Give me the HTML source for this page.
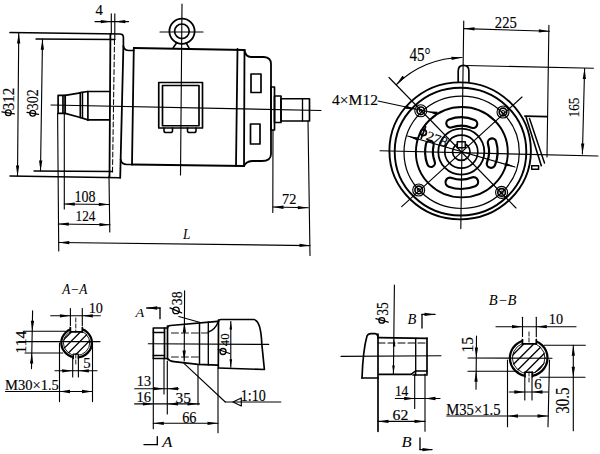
<!DOCTYPE html>
<html><head><meta charset="utf-8"><style>
html,body{margin:0;padding:0;background:#fff;width:600px;height:454px;overflow:hidden}
svg{display:block}
text{font-family:"Liberation Serif",serif;fill:#000;stroke:#000;stroke-width:0.15px}
</style></head><body>
<svg width="600" height="454" viewBox="0 0 600 454">
<rect width="600" height="454" fill="#fff"/>
<g fill="none" stroke="#000" stroke-linecap="round" stroke-linejoin="round">
<text x="95.59" y="15" font-size="13.6" textLength="7.32" lengthAdjust="spacingAndGlyphs">4</text>
<line x1="95" y1="21.6" x2="128.6" y2="21.6" stroke-width="1.12" />
<path d="M111.3,21.6 L100.8,23.25 L100.8,19.95 Z" fill="#000" stroke="none"/>
<path d="M114.8,21.6 L125.3,19.95 L125.3,23.25 Z" fill="#000" stroke="none"/>
<line x1="111.3" y1="13.9" x2="111.3" y2="34" stroke-width="1.12" />
<line x1="114.8" y1="13.9" x2="114.8" y2="39.5" stroke-width="1.12" />
<line x1="114.5" y1="39.5" x2="112.5" y2="173" stroke-width="1.01" stroke-dasharray="5,2.5"/>
<path d="M10,32.5 L120,34 Q123.4,34 123.4,37.5 L123.4,46.5 Q124.5,50.5 129,50.5 L133.8,50.5" stroke-width="1.68" />
<line x1="123.4" y1="46" x2="120.2" y2="177.8" stroke-width="1.79" />
<line x1="110.4" y1="34" x2="109.5" y2="176.5" stroke-width="1.79" />
<line x1="10" y1="176" x2="120.2" y2="177.8" stroke-width="1.57" />
<path d="M120.6,159.5 Q121.5,164.5 127,164.5 L132,164.5" stroke-width="1.68" />
<line x1="36" y1="39" x2="114.8" y2="39.5" stroke-width="1.34" />
<line x1="34" y1="171" x2="112.5" y2="171.5" stroke-width="1.34" />
<line x1="18.75" y1="33" x2="17.5" y2="176" stroke-width="1.12" />
<path d="M18.75,33 L20.31,43.51 L17.01,43.49 Z" fill="#000" stroke="none"/>
<path d="M17.5,176 L15.94,165.49 L19.24,165.51 Z" fill="#000" stroke="none"/>
<text transform="translate(8.5,98.9) rotate(-90)" x="-11.29" y="5.4" font-size="16.31" textLength="22.58" lengthAdjust="spacingAndGlyphs">312</text>
<ellipse cx="8.3" cy="112.8" rx="2.9" ry="2.9" stroke-width="1.3" fill="none" />
<line x1="1.9" y1="111.8" x2="14.3" y2="113.8" stroke-width="1.3" />
<line x1="42.5" y1="39.3" x2="40.5" y2="171" stroke-width="1.12" />
<path d="M42.5,39.3 L43.99,49.82 L40.69,49.77 Z" fill="#000" stroke="none"/>
<path d="M40.5,171 L39.01,160.48 L42.31,160.53 Z" fill="#000" stroke="none"/>
<text transform="translate(32.6,99.65) rotate(-90)" x="-10.52" y="5.2" font-size="15.71" textLength="21.04" lengthAdjust="spacingAndGlyphs">302</text>
<ellipse cx="32.7" cy="113.3" rx="2.9" ry="2.9" stroke-width="1.3" fill="none" />
<line x1="27" y1="112.3" x2="38.5" y2="114.3" stroke-width="1.3" />
<rect x="58.1" y="95.3" width="7.1" height="18.1" stroke-width="1.68" fill="none"/>
<line x1="62.8" y1="95.3" x2="62.8" y2="113.4" stroke-width="1.34" />
<line x1="63.9" y1="95.3" x2="63.9" y2="113.4" stroke-width="1.12" />
<line x1="65.2" y1="95.3" x2="80.3" y2="92.8" stroke-width="1.68" />
<line x1="65.2" y1="113.4" x2="80.3" y2="117.5" stroke-width="1.68" />
<line x1="80.3" y1="92.8" x2="80.3" y2="117.5" stroke-width="1.68" />
<line x1="82.5" y1="92.6" x2="82.5" y2="117.5" stroke-width="1.46" />
<line x1="87.9" y1="91.5" x2="87.9" y2="119.9" stroke-width="1.68" />
<line x1="80.3" y1="92.6" x2="87.9" y2="91.5" stroke-width="1.68" />
<line x1="80.3" y1="117.5" x2="87.9" y2="119.9" stroke-width="1.68" />
<line x1="87.9" y1="91.5" x2="109.4" y2="91.5" stroke-width="1.68" />
<line x1="87.9" y1="119.9" x2="109.4" y2="119.9" stroke-width="1.68" />
<line x1="51" y1="105" x2="321" y2="110.5" stroke-width="1.12" />
<line x1="133.8" y1="48" x2="244.5" y2="50" stroke-width="1.79" />
<line x1="133.8" y1="48" x2="132" y2="164.5" stroke-width="1.79" />
<line x1="132" y1="164.5" x2="244" y2="166" stroke-width="1.79" />
<line x1="237.5" y1="49" x2="236" y2="166" stroke-width="1.79" />
<line x1="244.5" y1="50" x2="244" y2="166" stroke-width="1.79" />
<path d="M244.5,50 Q245.5,57 251,57 L264,57 Q271,57.5 271,64 L271,154 Q271,161 262,161 L252,161 Q246,161.5 244,166" stroke-width="1.79" />
<rect x="251" y="74" width="10" height="18.5" stroke-width="1.68" fill="none"/>
<rect x="250.5" y="124" width="9.5" height="20" stroke-width="1.68" fill="none"/>
<rect x="271" y="87" width="3.5" height="43" stroke-width="1.68" fill="none"/>
<rect x="274.5" y="96" width="6.5" height="26.5" stroke-width="1.68" fill="none"/>
<rect x="281" y="98.75" width="28.5" height="22.25" stroke-width="1.68" fill="none"/>
<line x1="302.5" y1="98.75" x2="302.5" y2="121" stroke-width="1.34" />
<rect x="158.75" y="82.5" width="43.75" height="45.5" stroke-width="1.68" fill="none"/>
<rect x="162.5" y="85.5" width="36.5" height="40.25" stroke-width="1.68" fill="none"/>
<path d="M164,128 L164,131 Q164,132.5 166,132.5 L170.5,132.5 Q172.5,132.5 172.5,131 L172.5,128" stroke-width="1.57" />
<path d="M187.5,128 L187.5,131 Q187.5,132.5 189.5,132.5 L194,132.5 Q196,132.5 196,131 L196,128" stroke-width="1.57" />
<circle cx="182" cy="31.2" r="12.6" stroke-width="1.79" fill="none"/>
<circle cx="181.9" cy="31.3" r="7.3" stroke-width="1.68" fill="none"/>
<path d="M173.2,47.8 L176.5,43 M189,47.8 L186.2,43" stroke-width="1.57" />
<line x1="160" y1="32" x2="203" y2="32" stroke-width="1.12" />
<line x1="182" y1="4" x2="180.5" y2="175" stroke-width="1.12" />
<line x1="57.6" y1="113.4" x2="58.75" y2="251" stroke-width="1.12" />
<line x1="64.3" y1="113.4" x2="64.3" y2="209" stroke-width="1.12" />
<line x1="109" y1="176" x2="109.8" y2="232" stroke-width="1.12" />
<line x1="64.3" y1="204" x2="109.3" y2="204.5" stroke-width="1.12" />
<path d="M64.3,204 L74.82,202.47 L74.78,205.77 Z" fill="#000" stroke="none"/>
<path d="M109.3,204.5 L98.78,206.03 L98.82,202.73 Z" fill="#000" stroke="none"/>
<text x="74.5" y="202" font-size="16.62" textLength="21" lengthAdjust="spacingAndGlyphs">108</text>
<line x1="58.3" y1="224" x2="110" y2="224.8" stroke-width="1.12" />
<path d="M58.3,224 L68.82,222.51 L68.77,225.81 Z" fill="#000" stroke="none"/>
<path d="M110,224.8 L99.48,226.29 L99.53,222.99 Z" fill="#000" stroke="none"/>
<text x="75.55" y="221" font-size="15.11" textLength="19.91" lengthAdjust="spacingAndGlyphs">124</text>
<line x1="58.75" y1="242.5" x2="310" y2="245.6" stroke-width="1.12" />
<path d="M58.75,242.5 L69.27,240.98 L69.23,244.28 Z" fill="#000" stroke="none"/>
<path d="M310,245.6 L299.48,247.12 L299.52,243.82 Z" fill="#000" stroke="none"/>
<text x="182.99" y="239" font-size="13.6" textLength="7.42" lengthAdjust="spacingAndGlyphs" font-style="italic" style="stroke-width:0">L</text>
<line x1="308" y1="121" x2="310" y2="255.5" stroke-width="1.12" />
<line x1="273" y1="130" x2="272.8" y2="212.5" stroke-width="1.12" />
<line x1="273" y1="207" x2="308.3" y2="207.8" stroke-width="1.12" />
<path d="M273,207 L283.53,205.59 L283.46,208.89 Z" fill="#000" stroke="none"/>
<path d="M308.3,207.8 L297.77,209.21 L297.84,205.91 Z" fill="#000" stroke="none"/>
<text x="282.09" y="204" font-size="13.6" textLength="14.32" lengthAdjust="spacingAndGlyphs">72</text>
<ellipse cx="460.15" cy="150.85" rx="70.75" ry="68.5" stroke-width="1.9" fill="none" />
<ellipse cx="460.5" cy="151.65" rx="65.8" ry="63.85" stroke-width="1.9" fill="none" />
<ellipse cx="461.65" cy="152.35" rx="57.65" ry="56.15" stroke-width="1.23" fill="none" />
<ellipse cx="461.85" cy="152.2" rx="45.95" ry="45.2" stroke-width="1.9" fill="none" />
<circle cx="461.3" cy="151.7" r="23" stroke-width="1.79" fill="none"/>
<circle cx="461.3" cy="151.7" r="16.5" stroke-width="1.68" fill="none"/>
<circle cx="461.3" cy="151.7" r="8.7" stroke-width="1.68" fill="none"/>
<rect x="457.3" y="141.7" width="8" height="6" stroke-width="1.57" fill="#fff"/>
<path d="M473.12,123.85 A30.25,30.25 0 0 0 450.46,123.46" stroke-width="10.5" stroke-linecap="round"/>
<path d="M473.12,123.85 A30.25,30.25 0 0 0 450.46,123.46" stroke="#fff" stroke-width="6.1" stroke-linecap="round"/>
<path d="M429.77,144.71 A32.3,32.3 0 0 0 431.05,163.01" stroke-width="10" stroke-linecap="round"/>
<path d="M429.77,144.71 A32.3,32.3 0 0 0 431.05,163.01" stroke="#fff" stroke-width="5.6" stroke-linecap="round"/>
<path d="M491.08,163.55 A32.05,32.05 0 0 0 492.06,142.7" stroke-width="10.7" stroke-linecap="round"/>
<path d="M491.08,163.55 A32.05,32.05 0 0 0 492.06,142.7" stroke="#fff" stroke-width="6.3" stroke-linecap="round"/>
<path d="M450.17,182.29 A32.55,32.55 0 0 0 473.49,181.88" stroke-width="11.5" stroke-linecap="round"/>
<path d="M450.17,182.29 A32.55,32.55 0 0 0 473.49,181.88" stroke="#fff" stroke-width="7.1" stroke-linecap="round"/>
<line x1="463.75" y1="21" x2="460.8" y2="228.6" stroke-width="1.12" />
<line x1="380" y1="150.8" x2="598" y2="156" stroke-width="1.12" />
<line x1="389" y1="77.5" x2="516" y2="208" stroke-width="1.12" />
<line x1="522" y1="97" x2="401.7" y2="206.7" stroke-width="1.12" />
<circle cx="420.8" cy="110.8" r="6" stroke-width="1.12" fill="none"/>
<circle cx="420.8" cy="110.8" r="3.8" stroke-width="1.68" fill="none"/>
<circle cx="420.8" cy="110.8" r="1.5" stroke-width="1.01" fill="none"/>
<circle cx="503" cy="112" r="6" stroke-width="1.12" fill="none"/>
<circle cx="503" cy="112" r="3.8" stroke-width="1.68" fill="none"/>
<circle cx="503" cy="112" r="1.5" stroke-width="1.01" fill="none"/>
<circle cx="418.7" cy="190" r="6" stroke-width="1.12" fill="none"/>
<circle cx="418.7" cy="190" r="3.8" stroke-width="1.68" fill="none"/>
<circle cx="418.7" cy="190" r="1.5" stroke-width="1.01" fill="none"/>
<circle cx="501.6" cy="192.4" r="6" stroke-width="1.12" fill="none"/>
<circle cx="501.6" cy="192.4" r="3.8" stroke-width="1.68" fill="none"/>
<circle cx="501.6" cy="192.4" r="1.5" stroke-width="1.01" fill="none"/>
<path d="M458.2,81.6 L458.2,71 Q458.2,65.4 463.5,65.4 Q468.9,65.4 468.9,71 L468.9,81.6" stroke-width="1.68" />
<line x1="466" y1="65.5" x2="593.4" y2="68.3" stroke-width="1.12" />
<path d="M462,57.5 A94,94 0 0 0 396.5,84.5" stroke-width="1.12" />
<path d="M462,57.5 L451.67,59.98 L451.4,56.69 Z" fill="#000" stroke="none"/>
<path d="M396.5,84.5 L402.38,75.64 L404.81,77.87 Z" fill="#000" stroke="none"/>
<text x="409.46" y="61" font-size="18.13" textLength="21.09" lengthAdjust="spacingAndGlyphs">45°</text>
<text x="332.05" y="105" font-size="15.11" textLength="45.91" lengthAdjust="spacingAndGlyphs">4×M12</text>
<line x1="378" y1="101" x2="434" y2="113" stroke-width="1.12" />
<path d="M416,109.5 L405.39,108.82 L406.11,105.6 Z" fill="#000" stroke="none"/>
<path d="M427,111.3 L437.61,111.85 L436.93,115.08 Z" fill="#000" stroke="none"/>
<line x1="407.5" y1="136" x2="515" y2="167" stroke-width="1.12" />
<path d="M407.5,136 L418.04,137.39 L417.11,140.55 Z" fill="#000" stroke="none"/>
<path d="M515,167 L504.45,165.68 L505.37,162.51 Z" fill="#000" stroke="none"/>
<text transform="translate(437,139) rotate(21)" x="-10.91" y="4.5" font-size="13.6" textLength="21.82" lengthAdjust="spacingAndGlyphs">278</text>
<circle cx="423.4" cy="132.6" r="3" stroke-width="1.68" fill="none"/>
<line x1="421.18" y1="138.39" x2="425.62" y2="126.81" stroke-width="1.68" />
<line x1="464" y1="28.6" x2="549.3" y2="31.3" stroke-width="1.12" />
<path d="M464,28.6 L474.55,27.28 L474.44,30.58 Z" fill="#000" stroke="none"/>
<path d="M549.3,31.3 L538.75,32.62 L538.86,29.32 Z" fill="#000" stroke="none"/>
<text x="494.8" y="27.5" font-size="16.62" textLength="22" lengthAdjust="spacingAndGlyphs">225</text>
<line x1="548.9" y1="25.3" x2="547" y2="157" stroke-width="1.12" />
<line x1="584.6" y1="68.5" x2="582.4" y2="154" stroke-width="1.12" />
<path d="M584.6,68.5 L585.98,79.04 L582.68,78.95 Z" fill="#000" stroke="none"/>
<path d="M582.4,154 L581.02,143.46 L584.32,143.55 Z" fill="#000" stroke="none"/>
<text transform="translate(574,107.5) rotate(-90)" x="-9.95" y="5" font-size="15.11" textLength="19.91" lengthAdjust="spacingAndGlyphs">165</text>
<line x1="524.8" y1="116.1" x2="546.8" y2="116.6" stroke-width="1.57" />
<line x1="526.2" y1="117.5" x2="541.3" y2="165.7" stroke-width="1.57" />
<line x1="529.5" y1="118.5" x2="544.5" y2="163" stroke-width="1.46" />
<rect x="531.7" y="165.7" width="6.9" height="3.6" stroke-width="1.46" fill="none"/>
<text x="62.37" y="293.8" font-size="14.35" textLength="25.06" lengthAdjust="spacingAndGlyphs" font-style="italic" style="stroke-width:0">A−A</text>
<text x="88.75" y="313" font-size="15.11" textLength="14.21" lengthAdjust="spacingAndGlyphs">10</text>
<line x1="50.7" y1="315.8" x2="100.3" y2="315.8" stroke-width="1.12" />
<path d="M70.4,315.8 L59.9,317.45 L59.9,314.15 Z" fill="#000" stroke="none"/>
<path d="M82.3,315.8 L92.8,314.15 L92.8,317.45 Z" fill="#000" stroke="none"/>
<line x1="70.4" y1="308.6" x2="70.4" y2="331.7" stroke-width="1.12" />
<line x1="82.3" y1="308.6" x2="82.3" y2="331.7" stroke-width="1.12" />
<ellipse cx="76.6" cy="342.8" rx="15.3" ry="14.6" stroke-width="2.24" fill="none" />
<ellipse cx="76.6" cy="342.8" rx="13.2" ry="12.6" stroke-width="0.9" fill="none" />
<clipPath id="ca"><ellipse cx="76.6" cy="342.8" rx="13.5" ry="13"/></clipPath>
<g clip-path="url(#ca)">
<line x1="31.6" y1="362.8" x2="71.6" y2="322.8" stroke-width="1.34" />
<line x1="40.6" y1="362.8" x2="80.6" y2="322.8" stroke-width="1.34" />
<line x1="49.6" y1="362.8" x2="89.6" y2="322.8" stroke-width="1.34" />
<line x1="58.6" y1="362.8" x2="98.6" y2="322.8" stroke-width="1.34" />
<line x1="67.6" y1="362.8" x2="107.6" y2="322.8" stroke-width="1.34" />
<line x1="76.6" y1="362.8" x2="116.6" y2="322.8" stroke-width="1.34" />
<line x1="85.6" y1="362.8" x2="125.6" y2="322.8" stroke-width="1.34" />
</g>
<rect x="70" y="326" width="12.8" height="5.9" fill="#fff" stroke="none"/>
<line x1="70.4" y1="327.5" x2="70.4" y2="331.9" stroke-width="1.68" />
<line x1="82.3" y1="327.5" x2="82.3" y2="331.9" stroke-width="1.68" />
<line x1="70.4" y1="331.9" x2="82.3" y2="331.9" stroke-width="1.68" />
<rect x="72.6" y="354.5" width="6.4" height="5" fill="#fff" stroke="none"/>
<line x1="73.3" y1="355" x2="73.3" y2="358.5" stroke-width="1.34" />
<line x1="78.3" y1="355" x2="78.3" y2="358.5" stroke-width="1.34" />
<line x1="73.3" y1="354.2" x2="78.3" y2="354.2" stroke-width="1.34" />
<line x1="75.8" y1="318" x2="75.8" y2="332" stroke-width="0.9" stroke-dasharray="4,2"/>
<line x1="75.8" y1="354" x2="75.8" y2="366" stroke-width="0.9" stroke-dasharray="4,2"/>
<line x1="24" y1="331.3" x2="66" y2="331.3" stroke-width="1.12" />
<line x1="18.7" y1="341.6" x2="100" y2="341.6" stroke-width="1.12" />
<line x1="25" y1="353" x2="62.8" y2="353" stroke-width="1.12" />
<line x1="32.6" y1="310.8" x2="31.5" y2="368.6" stroke-width="1.12" />
<path d="M32.3,331.3 L30.84,320.77 L34.14,320.83 Z" fill="#000" stroke="none"/>
<path d="M31.8,353 L33.24,363.53 L29.94,363.46 Z" fill="#000" stroke="none"/>
<text transform="translate(21.5,342) rotate(-90)" x="-11.41" y="4.5" font-size="13.6" textLength="22.82" lengthAdjust="spacingAndGlyphs">114</text>
<line x1="59.5" y1="343" x2="59.5" y2="401.6" stroke-width="1.12" />
<line x1="92.5" y1="343" x2="92.5" y2="401.6" stroke-width="1.12" />
<line x1="72.7" y1="356" x2="72.7" y2="377" stroke-width="1.12" />
<line x1="78.4" y1="356" x2="78.4" y2="377" stroke-width="1.12" />
<text x="83.29" y="368" font-size="13.6" textLength="7.42" lengthAdjust="spacingAndGlyphs">5</text>
<line x1="55" y1="370.8" x2="97" y2="370.8" stroke-width="1.12" />
<path d="M72.7,370.8 L62.2,372.45 L62.2,369.15 Z" fill="#000" stroke="none"/>
<path d="M78.4,370.8 L88.9,369.15 L88.9,372.45 Z" fill="#000" stroke="none"/>
<text x="5.05" y="389.5" font-size="14.95" textLength="53.8" lengthAdjust="spacingAndGlyphs">M30×1.5</text>
<line x1="5.5" y1="391.5" x2="92.5" y2="391.5" stroke-width="1.12" />
<path d="M59.5,391.5 L70,389.85 L70,393.15 Z" fill="#000" stroke="none"/>
<path d="M92.5,391.5 L82,393.15 L82,389.85 Z" fill="#000" stroke="none"/>
<text x="135.64" y="317" font-size="12.08" textLength="8.73" lengthAdjust="spacingAndGlyphs" font-style="italic" style="stroke-width:0">A</text>
<line x1="146.7" y1="308" x2="160" y2="308" stroke-width="1.34" />
<line x1="160" y1="308" x2="160" y2="318.7" stroke-width="1.34" />
<path d="M146.7,308 L157.2,306.35 L157.2,309.65 Z" fill="#000" stroke="none"/>
<text transform="translate(177,298.3) rotate(-90)" x="-6.85" y="5" font-size="15.11" textLength="13.71" lengthAdjust="spacingAndGlyphs">38</text>
<ellipse cx="176" cy="310.4" rx="3.2" ry="3.3" stroke-width="1.3" fill="none" />
<line x1="170" y1="307.9" x2="181.6" y2="312.9" stroke-width="1.3" />
<line x1="184.6" y1="290.7" x2="184.2" y2="361" stroke-width="1.12" />
<rect x="153.3" y="328" width="11.2" height="30.5" stroke-width="1.68" fill="none"/>
<line x1="153.3" y1="332.5" x2="164.5" y2="332.5" stroke-width="1.34" />
<line x1="153.3" y1="355.5" x2="164.5" y2="355.5" stroke-width="1.34" />
<path d="M164.5,328 L167.5,328 Q167.5,325.8 170.5,325.5 L217.6,321.3" stroke-width="1.68" />
<path d="M164.5,358.5 L167.5,358.5 Q170,361.5 174,361.7 L198,364.3 L218,365.2" stroke-width="1.68" />
<line x1="167.5" y1="326" x2="167.5" y2="359" stroke-width="1.68" />
<path d="M218.5,321.5 Q218.5,319.5 221,319.5 L253.7,319.5 C258.5,320 261.3,330 261.8,344 L264.4,369.5 L218.5,368" stroke-width="1.68" />
<line x1="218.5" y1="320" x2="218.3" y2="367.7" stroke-width="1.68" />
<line x1="199.5" y1="322.8" x2="199.5" y2="364.5" stroke-width="1.46" />
<line x1="208.3" y1="322" x2="208.3" y2="365.2" stroke-width="1.34" />
<path d="M208.3,332 Q215,330 218.4,321.5" stroke-width="1.46" />
<line x1="230.8" y1="321.5" x2="230.8" y2="367.3" stroke-width="1.12" />
<path d="M230.8,321.5 L232.1,329.5 L229.5,329.5 Z" fill="#000" stroke="none"/>
<path d="M230.8,367.3 L229.5,359.3 L232.1,359.3 Z" fill="#000" stroke="none"/>
<text transform="translate(224.45,339.85) rotate(-90)" x="-6.33" y="4.15" font-size="12.54" textLength="12.65" lengthAdjust="spacingAndGlyphs">40</text>
<ellipse cx="223" cy="351.5" rx="3" ry="3" stroke-width="1.3" fill="none" />
<line x1="218.2" y1="349.5" x2="229.7" y2="353.5" stroke-width="1.3" />
<line x1="148.3" y1="343.8" x2="268.7" y2="344.4" stroke-width="1.12" />
<line x1="171.4" y1="333" x2="208" y2="333" stroke-width="0.9" stroke-dasharray="7,3"/>
<line x1="171.4" y1="357" x2="199.5" y2="357" stroke-width="0.9" stroke-dasharray="7,3"/>
<line x1="178.8" y1="316.5" x2="199.5" y2="322.3" stroke-width="1.12" />
<path d="M184.4,322 L186.05,332.5 L182.75,332.5 Z" fill="#000" stroke="none"/>
<path d="M184.2,361 L182.55,350.5 L185.85,350.5 Z" fill="#000" stroke="none"/>
<line x1="184" y1="363.3" x2="225.3" y2="402" stroke-width="1.12" />
<line x1="225.3" y1="402" x2="280.8" y2="402" stroke-width="1.12" />
<path d="M233,402 L241.3,398 L241.3,406 Z" stroke-width="1.2"/>
<text x="240.82" y="400.7" font-size="16.16" textLength="24.97" lengthAdjust="spacingAndGlyphs">1:10</text>
<line x1="153.3" y1="358" x2="153.3" y2="428.7" stroke-width="1.12" />
<line x1="164" y1="358" x2="164" y2="394" stroke-width="1.12" />
<line x1="167.3" y1="361" x2="167.3" y2="414" stroke-width="1.12" />
<line x1="198" y1="365" x2="198" y2="404.7" stroke-width="1.12" />
<line x1="218" y1="368" x2="218" y2="432.7" stroke-width="1.12" />
<text x="136.88" y="386" font-size="14.05" textLength="14.24" lengthAdjust="spacingAndGlyphs">13</text>
<line x1="134.7" y1="388.7" x2="178.7" y2="388.7" stroke-width="1.12" />
<path d="M164,388.7 L153.5,390.35 L153.5,387.05 Z" fill="#000" stroke="none"/>
<path d="M167.5,388.7 L178,387.05 L178,390.35 Z" fill="#000" stroke="none"/>
<text x="136.58" y="402" font-size="14.05" textLength="14.54" lengthAdjust="spacingAndGlyphs">16</text>
<line x1="134.7" y1="403.9" x2="199.5" y2="403.9" stroke-width="1.12" />
<path d="M153.3,403.9 L142.8,405.55 L142.8,402.25 Z" fill="#000" stroke="none"/>
<path d="M167.5,403.9 L178,402.25 L178,405.55 Z" fill="#000" stroke="none"/>
<path d="M198,403.9 L187.5,405.55 L187.5,402.25 Z" fill="#000" stroke="none"/>
<text x="175.59" y="403" font-size="13.6" textLength="15.52" lengthAdjust="spacingAndGlyphs">35</text>
<line x1="153.3" y1="423.3" x2="218" y2="423.3" stroke-width="1.12" />
<path d="M153.3,423.3 L163.8,421.65 L163.8,424.95 Z" fill="#000" stroke="none"/>
<path d="M218,423.3 L207.5,424.95 L207.5,421.65 Z" fill="#000" stroke="none"/>
<text x="182.22" y="423.3" font-size="16.01" textLength="14.26" lengthAdjust="spacingAndGlyphs">66</text>
<text x="162.28" y="447.3" font-size="14.05" textLength="10.14" lengthAdjust="spacingAndGlyphs" font-style="italic" style="stroke-width:0">A</text>
<line x1="144" y1="444.7" x2="157.3" y2="444.7" stroke-width="1.34" />
<line x1="157.3" y1="436.7" x2="157.3" y2="444.7" stroke-width="1.34" />
<line x1="394.4" y1="285" x2="393.4" y2="374" stroke-width="1.12" />
<path d="M394.1,338.5 L395.4,346.5 L392.8,346.5 Z" fill="#000" stroke="none"/>
<path d="M393.5,373.5 L392.2,365.5 L394.8,365.5 Z" fill="#000" stroke="none"/>
<text transform="translate(382.8,308.95) rotate(-90)" x="-6.82" y="5.2" font-size="15.71" textLength="13.64" lengthAdjust="spacingAndGlyphs">35</text>
<ellipse cx="381.8" cy="320.4" rx="2.9" ry="2.8" stroke-width="1.3" fill="none" />
<line x1="375.9" y1="318.6" x2="388.2" y2="322.2" stroke-width="1.3" />
<text x="407.59" y="324" font-size="13.6" textLength="8.82" lengthAdjust="spacingAndGlyphs" font-style="italic" style="stroke-width:0">B</text>
<line x1="422" y1="314.4" x2="435" y2="314.4" stroke-width="1.34" />
<line x1="422" y1="314.4" x2="422" y2="328" stroke-width="1.34" />
<path d="M435,314.4 L424.5,316.05 L424.5,312.75 Z" fill="#000" stroke="none"/>
<path d="M362,378 Q363,350 367,336 Q368,333.6 371,333.6 L375,333.6 Q378,334 378,338" stroke-width="1.68" />
<line x1="362" y1="378" x2="378" y2="378" stroke-width="1.68" />
<line x1="379" y1="337.7" x2="427" y2="338.3" stroke-width="1.68" />
<line x1="379" y1="374.3" x2="411" y2="374.3" stroke-width="1.68" />
<line x1="411" y1="374.3" x2="415.7" y2="370.8" stroke-width="1.46" />
<line x1="415.7" y1="371" x2="427" y2="371" stroke-width="1.46" />
<line x1="413" y1="375" x2="427" y2="375" stroke-width="1.68" />
<line x1="427" y1="338" x2="427" y2="374" stroke-width="1.68" />
<line x1="378" y1="334" x2="378" y2="431.3" stroke-width="1.68" />
<line x1="415.7" y1="338.3" x2="415.7" y2="375" stroke-width="1.34" />
<line x1="378" y1="343" x2="427" y2="343" stroke-width="1.12" stroke-dasharray="7,3"/>
<line x1="341" y1="356.4" x2="441" y2="355.7" stroke-width="1.12" />
<line x1="414.7" y1="374" x2="414.7" y2="408.4" stroke-width="1.12" />
<line x1="425" y1="374" x2="425" y2="431.3" stroke-width="1.12" />
<text x="394.88" y="395.8" font-size="13.9" textLength="13.43" lengthAdjust="spacingAndGlyphs">14</text>
<line x1="395.3" y1="398.5" x2="440" y2="398.5" stroke-width="1.12" />
<path d="M414.7,398.5 L404.2,400.15 L404.2,396.85 Z" fill="#000" stroke="none"/>
<path d="M425,398.5 L435.5,396.85 L435.5,400.15 Z" fill="#000" stroke="none"/>
<text x="392.59" y="419.8" font-size="13.75" textLength="15.82" lengthAdjust="spacingAndGlyphs">62</text>
<line x1="378" y1="421.4" x2="425" y2="421.4" stroke-width="1.12" />
<path d="M378,421.4 L388.5,419.75 L388.5,423.05 Z" fill="#000" stroke="none"/>
<path d="M425,421.4 L414.5,423.05 L414.5,419.75 Z" fill="#000" stroke="none"/>
<text x="401.58" y="447.3" font-size="14.05" textLength="10.14" lengthAdjust="spacingAndGlyphs" font-style="italic" style="stroke-width:0">B</text>
<line x1="420" y1="438" x2="420" y2="449.6" stroke-width="1.34" />
<line x1="420" y1="449.6" x2="432" y2="449.6" stroke-width="1.34" />
<path d="M433,449.6 L422.5,451.25 L422.5,447.95 Z" fill="#000" stroke="none"/>
<text x="488.86" y="304.5" font-size="14.8" textLength="27.59" lengthAdjust="spacingAndGlyphs" font-style="italic" style="stroke-width:0">B−B</text>
<text x="548.88" y="324" font-size="14.05" textLength="14.24" lengthAdjust="spacingAndGlyphs">10</text>
<line x1="496" y1="326.7" x2="576" y2="326.7" stroke-width="1.12" />
<path d="M522.5,326.7 L512,328.35 L512,325.05 Z" fill="#000" stroke="none"/>
<path d="M536.3,326.7 L546.8,325.05 L546.8,328.35 Z" fill="#000" stroke="none"/>
<line x1="522.5" y1="317.3" x2="522.5" y2="344" stroke-width="1.12" />
<line x1="536.3" y1="317.3" x2="536.3" y2="344" stroke-width="1.12" />
<ellipse cx="528.7" cy="358" rx="18.8" ry="18.2" stroke-width="2.24" fill="none" />
<ellipse cx="528.7" cy="358" rx="16.3" ry="15.7" stroke-width="0.9" fill="none" />
<clipPath id="cb"><ellipse cx="528.7" cy="358" rx="16.6" ry="16"/></clipPath>
<g clip-path="url(#cb)">
<line x1="477.7" y1="380" x2="521.7" y2="336" stroke-width="1.34" />
<line x1="487.7" y1="380" x2="531.7" y2="336" stroke-width="1.34" />
<line x1="497.7" y1="380" x2="541.7" y2="336" stroke-width="1.34" />
<line x1="507.7" y1="380" x2="551.7" y2="336" stroke-width="1.34" />
<line x1="517.7" y1="380" x2="561.7" y2="336" stroke-width="1.34" />
<line x1="527.7" y1="380" x2="571.7" y2="336" stroke-width="1.34" />
<line x1="537.7" y1="380" x2="581.7" y2="336" stroke-width="1.34" />
</g>
<rect x="522" y="337" width="14.8" height="6.9" fill="#fff" stroke="none"/>
<line x1="522.5" y1="339.5" x2="522.5" y2="343.9" stroke-width="1.68" />
<line x1="536.3" y1="339.5" x2="536.3" y2="343.9" stroke-width="1.68" />
<line x1="522.5" y1="343.9" x2="536.3" y2="343.9" stroke-width="1.68" />
<rect x="524.6" y="372.5" width="8.3" height="6" fill="#fff" stroke="none"/>
<line x1="525.1" y1="372.3" x2="525.1" y2="377" stroke-width="1.46" />
<line x1="532.4" y1="372.3" x2="532.4" y2="377" stroke-width="1.46" />
<line x1="525.1" y1="372.3" x2="532.4" y2="372.3" stroke-width="1.46" />
<line x1="529" y1="332" x2="529" y2="344" stroke-width="0.9" stroke-dasharray="4,2"/>
<line x1="529" y1="372" x2="529" y2="382" stroke-width="0.9" stroke-dasharray="4,2"/>
<text transform="translate(468,344.65) rotate(-90)" x="-7.83" y="5.3" font-size="16.01" textLength="15.66" lengthAdjust="spacingAndGlyphs">15</text>
<line x1="476.5" y1="336" x2="476" y2="389.3" stroke-width="1.12" />
<path d="M476.3,358 L474.77,347.48 L478.07,347.52 Z" fill="#000" stroke="none"/>
<path d="M476.1,371.2 L477.69,381.71 L474.39,381.69 Z" fill="#000" stroke="none"/>
<line x1="468" y1="358" x2="552" y2="358.2" stroke-width="1.12" />
<line x1="468" y1="371.2" x2="518" y2="371.2" stroke-width="1.12" />
<line x1="544" y1="345.3" x2="585.3" y2="345.3" stroke-width="1.12" />
<line x1="540" y1="377.3" x2="585" y2="377.3" stroke-width="1.12" />
<line x1="573.3" y1="345.3" x2="573.3" y2="430.7" stroke-width="1.12" />
<path d="M573.3,345.3 L574.95,355.8 L571.65,355.8 Z" fill="#000" stroke="none"/>
<path d="M573.3,377.3 L571.65,366.8 L574.95,366.8 Z" fill="#000" stroke="none"/>
<text transform="translate(563.3,400.65) rotate(-90)" x="-13.19" y="6" font-size="18.13" textLength="26.39" lengthAdjust="spacingAndGlyphs">30.5</text>
<text x="534.28" y="389.3" font-size="14.05" textLength="7.44" lengthAdjust="spacingAndGlyphs">6</text>
<line x1="509.3" y1="392" x2="548" y2="392" stroke-width="1.12" />
<path d="M524.8,392 L514.3,393.65 L514.3,390.35 Z" fill="#000" stroke="none"/>
<path d="M532,392 L542.5,390.35 L542.5,393.65 Z" fill="#000" stroke="none"/>
<line x1="524.8" y1="372" x2="524.8" y2="400" stroke-width="1.12" />
<line x1="532" y1="372" x2="532" y2="400" stroke-width="1.12" />
<line x1="507.5" y1="360" x2="507.5" y2="426.7" stroke-width="1.12" />
<line x1="549.5" y1="360" x2="548" y2="426.7" stroke-width="1.12" />
<text x="446.22" y="414.7" font-size="16.16" textLength="54.27" lengthAdjust="spacingAndGlyphs">M35×1.5</text>
<line x1="446.7" y1="416" x2="548" y2="416" stroke-width="1.12" />
<path d="M507.5,416 L518,414.35 L518,417.65 Z" fill="#000" stroke="none"/>
<path d="M548,416 L537.5,417.65 L537.5,414.35 Z" fill="#000" stroke="none"/>
</g></svg></body></html>
